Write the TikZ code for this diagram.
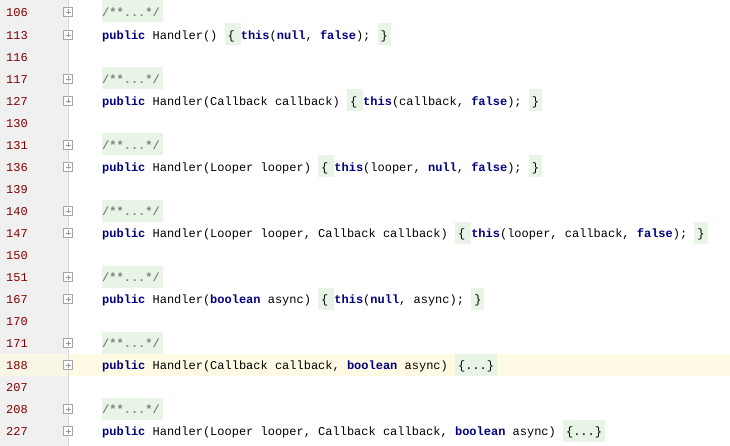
\documentclass[tikz,border=0pt]{standalone}
\usepackage{fontspec}
\setmonofont{Liberation Mono}
\setmainfont{Liberation Sans}
\definecolor{gutter}{HTML}{F0F0F0}
\definecolor{gline}{HTML}{D8D8D8}
\definecolor{lnum}{HTML}{800000}
\definecolor{kw}{HTML}{000080}
\definecolor{foldbg}{HTML}{E8F5E6}
\definecolor{cur}{HTML}{FFFAE3}
\definecolor{cmt}{HTML}{808080}
\newcommand\kwd[1]{\textcolor{kw}{\bfseries #1}}
\newcommand\gbx[1]{{\setlength\fboxsep{0pt}\colorbox{foldbg}{\rule[-6pt]{0pt}{22pt}#1}}}
\newcommand\cm{\gbx{\textcolor{cmt}{\bfseries /**...*/}\hspace{3pt}}}
\newcommand\ob{\gbx{\hspace{3pt}\{\hspace{6pt}}}
\newcommand\cb{\gbx{\hspace{3pt}\}\hspace{3pt}}}
\newcommand\fd{\gbx{\hspace{3pt}\{...\}\hspace{3pt}}}
\tikzset{
  code/.style={anchor=base west,inner sep=0pt,font=\ttfamily\fontsize{12}{12}\selectfont},
  num/.style={anchor=base west,inner sep=0pt,text=lnum,font=\ttfamily\fontsize{12}{12}\selectfont},
  plus/.style={draw=gray!70,fill=white,minimum size=9pt,inner sep=0pt,line width=0.6pt,
    path picture={\draw[gray!80,line width=0.6pt] ([xshift=2pt]path picture bounding box.west)--([xshift=-2pt]path picture bounding box.east)
      ([yshift=-2pt]path picture bounding box.north)--([yshift=2pt]path picture bounding box.south);}}
}
\begin{document}
\begin{tikzpicture}[x=1pt,y=1pt]
\useasboundingbox (0,0) rectangle (730,-446);
\fill[white] (0,0) rectangle (730,-446);
\fill[gutter] (0,0) rectangle (68,-446);
\fill[cur] (0,-354) rectangle (730,-376);
\fill[cur!60!gutter] (0,-354) rectangle (68,-376);
\draw[gline,line width=0.8pt] (68,0) -- (68,-446);
\foreach \n/\y [count=\i] in {106/12,113/35,116/57,117/79,127/101,130/123,131/145,136/167,139/189,140/211,147/233,150/255,151/277,167/299,170/321,171/343,188/365,207/387,208/409,227/431}{
  \node[num] (n\i) at (6,-\y-4.5) {\n};
}
\foreach \y [count=\i] in {12,35,79,101,145,167,211,233,277,299,343,365,409,431}{
  \node[plus] (p\i) at (68,-\y) {};
}
\node[code] (c1) at (102,-16.5) {\cm};
\node[code] (c2) at (102,-39.5) {\kwd{public} Handler() \ob\kwd{this}(\kwd{null}, \kwd{false}); \cb};
\node[code] (c3) at (102,-83.5) {\cm};
\node[code] (c4) at (102,-105.5) {\kwd{public} Handler(Callback callback) \ob\kwd{this}(callback, \kwd{false}); \cb};
\node[code] (c5) at (102,-149.5) {\cm};
\node[code] (c6) at (102,-171.5) {\kwd{public} Handler(Looper looper) \ob\kwd{this}(looper, \kwd{null}, \kwd{false}); \cb};
\node[code] (c7) at (102,-215.5) {\cm};
\node[code] (c8) at (102,-237.5) {\kwd{public} Handler(Looper looper, Callback callback) \ob\kwd{this}(looper, callback, \kwd{false}); \cb};
\node[code] (c9) at (102,-281.5) {\cm};
\node[code] (c10) at (102,-303.5) {\kwd{public} Handler(\kwd{boolean} async) \ob\kwd{this}(\kwd{null}, async); \cb};
\node[code] (c11) at (102,-347.5) {\cm};
\node[code] (c12) at (102,-369.5) {\kwd{public} Handler(Callback callback, \kwd{boolean} async) \fd};
\node[code] (c13) at (102,-413.5) {\cm};
\node[code] (c14) at (102,-435.5) {\kwd{public} Handler(Looper looper, Callback callback, \kwd{boolean} async) \fd};
\end{tikzpicture}
\end{document}
